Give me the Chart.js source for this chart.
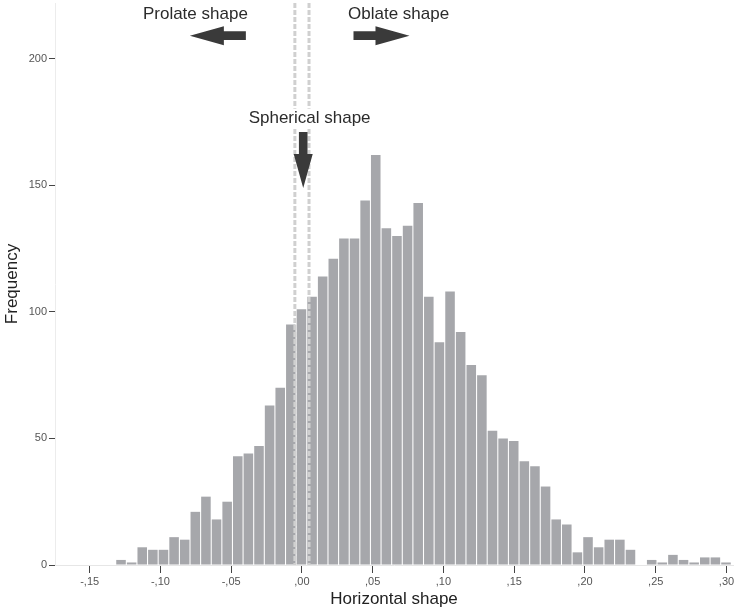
<!DOCTYPE html>
<html>
<head>
<meta charset="utf-8">
<title>Horizontal shape</title>
<script src="https://cdn.jsdelivr.net/npm/chart.js@4.4.1/dist/chart.umd.min.js"></script>
<style>
  html, body { margin: 0; padding: 0; background: #fff; }
  #wrap { width: 736px; height: 611px; }
</style>
</head>
<body>
<div id="wrap"><canvas id="hist" width="736" height="611"></canvas></div>
<script>
// histogram bins: left edge of first bin, bin width, counts per bin
const binStart = -0.1316;
const binWidth = 0.0075;
const counts = [2, 1, 7, 6, 6, 11, 10, 21, 27, 18, 25, 43, 44, 47, 63, 70, 95, 101, 106, 114,
  121, 129, 129, 144, 162, 133, 130, 134, 143, 106, 88, 108, 92, 79, 75, 53, 50, 49, 41, 39,
  31, 18, 16, 5, 11, 7, 10, 10, 6, 0, 2, 1, 4, 2, 1, 3, 3, 1];
const xTicks = [-0.15, -0.10, -0.05, 0, 0.05, 0.10, 0.15, 0.20, 0.25, 0.30];
const yTicks = [0, 50, 100, 150, 200];
// dashed limits of the spherical band
const sphereBounds = [-0.005, 0.005];
// annotation texts and arrow tips, in data units
const notes = [
  { text: 'Prolate shape', x: -0.0753, y: 217.4 },
  { text: 'Oblate shape', x: 0.0683, y: 217.4 },
  { text: 'Spherical shape', x: 0.0054, y: 176.3 }
];
const arrows = [
  { dir: 'left', x: -0.0792, y: 209.1 },
  { dir: 'right', x: 0.0760, y: 209.1 },
  { dir: 'down', x: 0.0009, y: 148.9 }
];

const FONT = '"Liberation Sans", Arial, Helvetica, sans-serif';

const points = counts.map((c, i) => ({ x: binStart + (i + 0.5) * binWidth, y: c }));

function fmtX(v) {
  const n = Math.round(Math.abs(v) * 100);
  return (v < -1e-9 ? '-' : '') + ',' + String(n).padStart(2, '0');
}

function drawArrow(ctx, tx, ty, dir) {
  const angle = { right: 0, left: Math.PI, down: Math.PI / 2, up: -Math.PI / 2 }[dir];
  const headLen = 34, headHalf = 9.5, shaftLen = 22, shaftHalf = 4.3;
  ctx.save();
  ctx.translate(tx, ty);
  ctx.rotate(angle);
  ctx.beginPath();
  ctx.moveTo(0, 0);
  ctx.lineTo(-headLen, -headHalf);
  ctx.lineTo(-headLen, -shaftHalf);
  ctx.lineTo(-headLen - shaftLen, -shaftHalf);
  ctx.lineTo(-headLen - shaftLen, shaftHalf);
  ctx.lineTo(-headLen, shaftHalf);
  ctx.lineTo(-headLen, headHalf);
  ctx.closePath();
  ctx.fillStyle = '#3a3a3a';
  ctx.fill();
  ctx.restore();
}

const shapeNotes = {
  id: 'shapeNotes',
  afterDatasetsDraw(chart) {
    const ctx = chart.ctx;
    const xs = chart.scales.x, ys = chart.scales.y;
    const area = chart.chartArea;

    ctx.save();
    ctx.strokeStyle = '#d0d0d0';
    ctx.lineWidth = 3;
    ctx.setLineDash([5, 2]);
    sphereBounds.forEach(v => {
      const px = xs.getPixelForValue(v);
      ctx.beginPath();
      ctx.moveTo(px, area.top);
      ctx.lineTo(px, area.bottom);
      ctx.stroke();
    });
    ctx.restore();

    ctx.save();
    ctx.font = '17px ' + FONT;
    ctx.textAlign = 'center';
    ctx.textBaseline = 'middle';
    notes.forEach(n => {
      const px = xs.getPixelForValue(n.x), py = ys.getPixelForValue(n.y);
      const w = ctx.measureText(n.text).width;
      ctx.fillStyle = '#fff';
      ctx.fillRect(px - w / 2 - 2, py - 10, w + 4, 20);
      ctx.fillStyle = '#2b2b2b';
      ctx.fillText(n.text, px, py);
    });
    ctx.restore();

    arrows.forEach(a => {
      drawArrow(ctx, xs.getPixelForValue(a.x), ys.getPixelForValue(a.y), a.dir);
    });
  }
};

new Chart(document.getElementById('hist'), {
  type: 'bar',
  data: {
    datasets: [{
      data: points,
      backgroundColor: '#a6a7ab',
      borderWidth: 0,
      barPercentage: 0.9,
      categoryPercentage: 1
    }]
  },
  options: {
    responsive: false,
    animation: false,
    devicePixelRatio: 1,
    layout: { padding: { top: 3, right: 3, left: 0, bottom: 0 } },
    plugins: { legend: { display: false }, tooltip: { enabled: false } },
    scales: {
      x: {
        type: 'linear',
        min: -0.1745,
        max: 0.3046,
        offset: false,
        grid: { drawOnChartArea: false, offset: false, tickLength: 8, color: '#444' },
        border: { display: true, color: '#e6e6e6' },
        ticks: {
          color: '#555',
          font: { size: 11, family: FONT },
          padding: 2,
          maxRotation: 0,
          autoSkip: false,
          callback: v => fmtX(v)
        },
        afterBuildTicks: s => { s.ticks = xTicks.map(v => ({ value: v })); },
        afterFit: s => { s.height = 46; s.paddingLeft = 0; s.paddingRight = 0; },
        title: {
          display: true,
          text: 'Horizontal shape',
          color: '#222',
          font: { size: 17, family: FONT },
          padding: { top: 0, bottom: 1 }
        }
      },
      y: {
        min: 0,
        max: 222,
        grid: { drawOnChartArea: false, tickLength: 6, color: '#444' },
        border: { display: true, color: '#ececec' },
        ticks: {
          color: '#555',
          font: { size: 11, family: FONT },
          padding: 2
        },
        afterBuildTicks: s => { s.ticks = yTicks.map(v => ({ value: v })); },
        afterFit: s => { s.width = 55; s.paddingTop = 0; s.paddingBottom = 0; },
        title: {
          display: true,
          text: 'Frequency',
          color: '#222',
          font: { size: 17, family: FONT },
          padding: { top: 2, bottom: 0 }
        }
      }
    }
  },
  plugins: [shapeNotes]
});
</script>
</body>
</html>
